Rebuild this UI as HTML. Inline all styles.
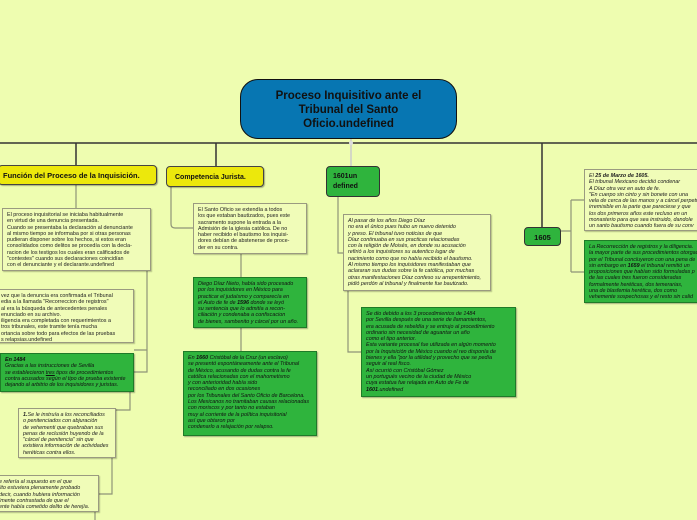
<!DOCTYPE html>
<html><head><meta charset="utf-8"><style>
body{margin:0;width:697px;height:520px;background:#eefdb0;position:relative;overflow:hidden;font-family:"Liberation Sans",sans-serif}
.b{position:absolute;box-sizing:border-box}
.n{background:#f0fcb8;border:1.5px solid #9a9a80;box-shadow:1px 1px 1px rgba(0,0,0,.25);font-size:5.4px;line-height:6.3px;color:#222;padding:3px 4px}
.g{background:#2fb43d;border:1.5px solid #1f7a28;box-shadow:1px 1px 1px rgba(0,0,0,.3);font-size:5.4px;line-height:6.3px;color:#111;font-style:italic;padding:3px 4px}
.i{font-style:italic}
.y{background:#ece80c;border:1.5px solid #444;border-radius:4px;font-weight:bold;font-size:7.5px;color:#111;box-shadow:1px 1px 1px rgba(0,0,0,.3)}
svg{position:absolute;left:0;top:0}
</style></head><body>
<svg width="697" height="520">
<g fill="none" stroke="#333" stroke-width="1.5">
<path d="M0 143H697M76 143V165M216 143V166M542 143V227"/>
</g>
<g fill="none" stroke="#8f9478" stroke-width="1.2">
<path d="M76 185V208M147 271V372H134M147 350H134M130 392V410H116M112 458V494H99M95 512V520"/>
<path d="M171 187V224Q171 228 175 228H193M241 254V277M241 328V351"/>
<path d="M338 197V253H343M348 291V352H361"/>
<path d="M561 231H571M571 200V272M571 200H584M571 272H584"/>
</g>
<line x1="351" y1="139" x2="351" y2="166" stroke="#ccc" stroke-width="1.5"/>
<circle cx="351" cy="143" r="2" fill="#ddd"/>
</svg>
<div class="b" style="left:240px;top:79px;width:217px;height:60px;background:#0776b2;border:1.5px solid #111;border-radius:18px;color:#111;font-weight:bold;font-size:11.5px;line-height:14px;text-align:center;padding-top:9px">Proceso Inquisitivo ante el<br>Tribunal del Santo<br>Oficio.undefined</div>
<div class="b y" style="left:-2px;top:165px;width:159px;height:20px;padding:5px 0 0 4px">Función del Proceso de la Inquisición.</div>
<div class="b y" style="left:166px;top:166px;width:98px;height:21px;padding:7px 0 0 8px;font-size:7px">Competencia Jurista.</div>
<div class="b" style="left:326px;top:166px;width:54px;height:31px;background:#2fb43d;border:1.5px solid #333;border-radius:4px;font-weight:bold;font-size:7px;line-height:10px;padding:5px 0 0 6px;color:#111">1601un<br>defined</div>
<div class="b" style="left:524px;top:227px;width:37px;height:19px;background:#2fb43d;border:1.5px solid #333;border-radius:4px;font-weight:bold;font-size:7.5px;text-align:center;padding-top:5px;color:#111">1605</div>

<div class="b n" style="left:2px;top:208px;width:149px;height:63px">El proceso inquisitorial se iniciaba habitualmente<br>en virtud de una denuncia presentada.<br>Cuando se presentaba la declaración al denunciante<br>al mismo tiempo se informaba por si otras personas<br>pudieran disponer sobre los hechos, si estos eran<br>consolidados como delitos se procedía con la decla-<br>racion de los testigos los cuales eran calificados de<br>"contestes" cuando sus declaraciones coincidían<br>con el denunciante y el declarante.undefined</div>
<div class="b n" style="left:-4px;top:289px;width:138px;height:54px;white-space:nowrap">vez que la denuncia era confirmada el Tribunal<br>edia a la llamada "Recorreccion de registros"<br>al era la búsqueda de antecedentes penales<br>enunciado en su archivo.<br>iligencia era completada con requerimientos a<br>tros tribunales, este tramite tenía mucha<br>ortancia sobre todo para efectos de las pruebas<br>s relapsias.undefined</div>
<div class="b g" style="left:0px;top:353px;width:134px;height:39px"><b>En 1484</b><br>Gracias a las instrucciones de Sevilla<br>se establecieron <u>tres</u> tipos de procedimientos<br>contra acusados según el tipo de prueba existente<br>dejando al arbitrio de los inquisidores y juristas.</div>
<div class="b n i" style="left:18px;top:408px;width:98px;height:50px"><b>1.</b>Se le instruía a los reconciliados<br>o penitenciados con abjuración<br>de vehementi que quebraban sus<br>penas de reclusión huyendo de la<br>"cárcel de penitencia" sin que<br>existiera información de actividades<br>heréticas contra ellos.</div>
<div class="b n i" style="left:-6px;top:475px;width:105px;height:37px;white-space:nowrap">e refería al supuesto en el que<br>lito estuviera plenamente probado<br>decir, cuando hubiera información<br>lmente contrastada de que el<br>ente había cometido delito de herejía.</div>

<div class="b n" style="left:193px;top:203px;width:114px;height:51px">El Santo Oficio se extendía a todos<br>los que estaban bautizados, pues este<br>sacramento supone la entrada a la<br>Admisión de la iglesia católica. De no<br>haber recibido el bautismo los inquisi-<br>dores debían de abstenerse de proce-<br>der en su contra.</div>
<div class="b g" style="left:193px;top:277px;width:114px;height:51px">Diego Díaz Nieto, había sido procesado<br>por los inquisidores en México para<br>practicar el judaísmo y comparecía en<br>el Auto de fe de <b>1596</b> donde se leyó<br>su sentencia que lo admitía a recon-<br>ciliación y condenaba a confiscacion<br>de bienes, sambenito y cárcel por un año.</div>
<div class="b g" style="left:183px;top:351px;width:134px;height:85px">En <b>1660</b> Cristóbal de la Cruz (un esclavo)<br>se presentó espontáneamente ante el Tribunal<br>de México, acusando de dudas contra la fe<br>católica relacionadas con el mahometismo<br>y con anterioridad había sido<br>reconciliado en dos ocasiones<br>por los Tribunales del Santo Oficio de Barcelona.<br>Los Mexicanos no tramitaban causas relacionadas<br>con moriscos y por tanto no estaban<br>muy al corriente de la política inquisitorial<br>así que obtaron por<br>condenarlo a relajación por relapso.</div>

<div class="b n i" style="left:343px;top:214px;width:148px;height:77px">Al pasar de los años Diego Díaz<br>no era el único pues hubo un nuevo detenido<br>y preso. El tribunal tuvo noticias de que<br>Díaz continuaba en sus practicas relacionadas<br>con la religión de Moisés, en donde su acusación<br>refirió a los inquisitores su autentico lugar de<br>nacimiento como que no había recibido el bautismo.<br>Al mismo tiempo los inquisidores manifestaban que<br>aclararan sus dudas sobre la fe católica, por muchas<br>otras manifestaciones Díaz confeso su arrepentimiento,<br>pidió perdón al tribunal y finalmente fue bautizado.</div>
<div class="b g" style="left:361px;top:307px;width:155px;height:90px">Se dio debido a los 3 procedimientos de 1484<br>por Sevilla después de una serie de llamamientos,<br>era acusada de rebeldía y se entrujo al procedimiento<br>ordinario sin necesidad de aguantar un año<br>como el tipo anterior.<br>Esta variante procesal fue utilizada en algún momento<br>por la Inquisición de México cuando el reo disponía de<br>bienes y ella "por la utilidad y provecho que se pedía<br>seguir al real fisco.<br>Así ocurrió con Cristóbal Gómez<br>un portugués vecino de la ciudad de México<br>cuya estatua fue relajada en Auto de Fe de<br><b>1601</b>.undefined</div>

<div class="b n i" style="left:584px;top:169px;width:120px;height:62px;white-space:nowrap">El <b>25 de Marzo de 1605.</b><br>El tribunal Mexicano decidió condenar<br>A Díaz otra vez en auto de fe.<br>"En cuerpo sin cinto y sin bonete con una<br>vela de cerca de las manos y a cárcel perpetua<br>irremisible en la parte que pareciese y que<br>los dos primeros años este recluso en un<br>monasterio para que sea instruido, dandole<br>un santo bautismo cuando fuera de su conv</div>
<div class="b g" style="left:584px;top:240px;width:120px;height:63px;white-space:nowrap">La Recorrección de registros y la diligencia.<br>la mayor parte de sus procedimientos otorgados<br>por el Tribunal concluyeron con una pena de<br>sin embargo en <b>1659</b> el tribunal remitió un<br>proposiciones que habían sido formuladas p<br>de las cuales tres fueron consideradas<br>formalmente heréticas, dos temerarias,<br>una de blasfemia herética, dos como<br>vehemente sospechosas y el resto sin calid</div>
</body></html>
